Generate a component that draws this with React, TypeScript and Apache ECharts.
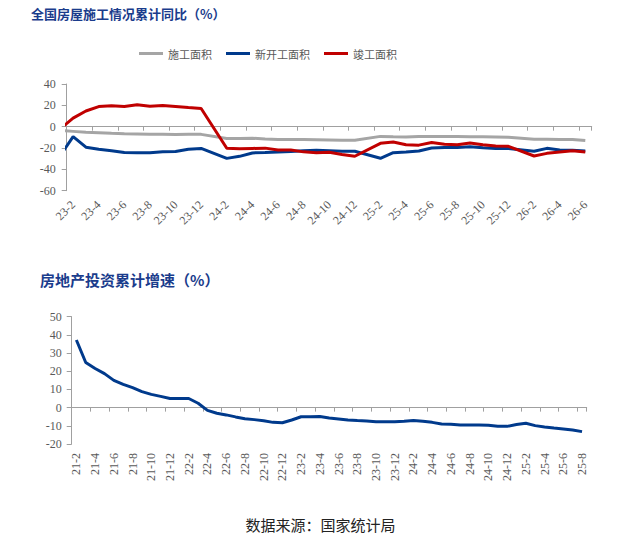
import React, { useEffect, useRef } from 'react';
import * as echarts from 'echarts';

// ---- Top chart: 全国房屋施工情况累计同比 ----
// index 0 is a leading point just left of the visible range (clipped by the grid)
const topCategories = [
  '23-1',
  '23-2', '23-3', '23-4', '23-5', '23-6', '23-7', '23-8', '23-9', '23-10', '23-11', '23-12',
  '24-1', '24-2', '24-3', '24-4', '24-5', '24-6', '24-7', '24-8', '24-9', '24-10', '24-11', '24-12',
  '25-1', '25-2', '25-3', '25-4', '25-5', '25-6', '25-7', '25-8', '25-9', '25-10', '25-11', '25-12',
  '26-1', '26-2', '26-3', '26-4', '26-5', '26-6',
];
const constructionArea = [
  -3.6,
  -4.4, -5.2, -5.6, -6.2, -6.6, -6.8, -7.1, -7.1, -7.3, -7.2, -7.2,
  null, -11.0, -11.1, -10.8, -11.6, -12.0, -12.1, -12.0, -12.2, -12.4, -12.7, -12.7,
  null, -9.1, -9.5, -9.7, -9.2, -9.1, -9.2, -9.3, -9.4, -9.4, -9.6, -10.0,
  null, -11.8, -11.8, -11.9, -12.0, -13.0,
];
const newStartArea = [
  -27,
  -9.4, -19.2, -21.2, -22.6, -24.3, -24.5, -24.4, -23.4, -23.2, -21.2, -20.4,
  null, -29.7, -27.8, -24.6, -24.2, -23.7, -23.2, -22.5, -22.2, -22.6, -23.0, -23.0,
  null, -29.6, -24.4, -23.8, -22.8, -20.0, -19.4, -19.5, -18.9, -19.8, -20.5, -20.4,
  null, -23.1, -20.3, -21.9, -22.2, -22.8,
];
const completedArea = [
  -2,
  8.0, 14.7, 18.8, 19.6, 19.0, 20.5, 19.2, 19.8, 19.0, 17.9, 17.0,
  null, -20.2, -20.7, -20.4, -20.1, -21.8, -21.8, -23.6, -24.4, -23.9, -26.0, -27.7,
  null, -15.6, -14.3, -16.9, -17.3, -14.8, -16.5, -17.0, -15.3, -16.9, -18.0, -18.4,
  null, -27.5, -25.0, -23.7, -22.5, -23.7,
];
const topSeriesNames = ['施工面积', '新开工面积', '竣工面积'];

// ---- Bottom chart: 房地产投资累计增速 ----
const invCategories = [
  '21-2', '21-3', '21-4', '21-5', '21-6', '21-7', '21-8', '21-9', '21-10', '21-11', '21-12',
  '22-1', '22-2', '22-3', '22-4', '22-5', '22-6', '22-7', '22-8', '22-9', '22-10', '22-11', '22-12',
  '23-1', '23-2', '23-3', '23-4', '23-5', '23-6', '23-7', '23-8', '23-9', '23-10', '23-11', '23-12',
  '24-1', '24-2', '24-3', '24-4', '24-5', '24-6', '24-7', '24-8', '24-9', '24-10', '24-11', '24-12',
  '25-1', '25-2', '25-3', '25-4', '25-5', '25-6', '25-7', '25-8',
];
const investmentGrowth = [
  37.2, 24.8, 21.5, 18.7, 15.0, 12.8, 11.0, 8.8, 7.3, 6.2, 5.0,
  5.0, 5.0, 2.4, -1.5, -3.1, -4.0, -5.1, -6.1, -6.6, -7.2, -8.1, -8.3,
  -6.8, -5.0, -5.0, -4.9, -5.7, -6.2, -6.8, -7.1, -7.3, -7.7, -7.7, -7.7,
  -7.5, -7.1, -7.5, -8.1, -9.0, -9.2, -9.5, -9.5, -9.5, -9.7, -10.3, -10.3,
  -9.3, -8.6, -9.9, -10.6, -11.2, -11.7, -12.3, -13.2,
];

const titleTop = '全国房屋施工情况累计同比（%）';
const titleBottom = '房地产投资累计增速（%）';
const sourceText = '数据来源：国家统计局';

const AXIS_GRAY = '#A0A0A0';
const LABEL_GRAY = '#595959';
const SERIF = 'Liberation Serif';
const CJK = 'Noto Sans CJK SC';
const COLORS = ['#A5A5A5', '#003A8C', '#C00000'];

export default function App() {
  const ref = useRef<HTMLDivElement>(null);

  useEffect(() => {
    if (!ref.current) return;
    const chart = echarts.init(ref.current, null, { renderer: 'svg' });

    const axisLabelStyle = { color: LABEL_GRAY, fontFamily: SERIF, fontSize: 12 };
    const topEven = (i: number) => (i - 1) % 2 === 0;
    const botEven = (i: number) => i % 2 === 0;

    const option: any = {
      animation: false,
      title: [
        {
          text: titleTop, left: 31, top: 7, padding: 0,
          textStyle: { fontSize: 13, fontWeight: 'bold', color: '#1A3C8C', fontFamily: CJK },
        },
        {
          text: titleBottom, left: 40, top: 272, padding: 0,
          textStyle: { fontSize: 15, fontWeight: 'bold', color: '#1A3C8C', fontFamily: CJK },
        },
        {
          text: sourceText, left: 'center', top: 517, padding: 0,
          textStyle: { fontSize: 15, fontWeight: 'normal', color: '#222', fontFamily: CJK },
        },
      ],
      legend: {
        data: topSeriesNames,
        left: 139, top: 48, padding: 0,
        icon: 'rect', itemWidth: 24, itemHeight: 3, itemGap: 14,
        textStyle: { fontSize: 11, color: LABEL_GRAY, fontFamily: CJK },
      },
      grid: [
        { left: 66.7, top: 84, right: 49.3, height: 106.7, containLabel: false },
        { left: 71.7, top: 316.7, right: 54.3, height: 127.3, containLabel: false },
      ],
      xAxis: [
        {
          type: 'category', gridIndex: 0, data: topCategories, min: 1, position: 'bottom',
          boundaryGap: true,
          axisLine: { show: false, onZero: false },
          axisTick: { show: false },
          axisLabel: { ...axisLabelStyle, rotate: 45, margin: 12, interval: topEven },
        },
        {
          type: 'category', gridIndex: 0, data: topCategories, min: 1, position: 'bottom',
          boundaryGap: true,
          axisLine: { show: true, onZero: true, lineStyle: { color: AXIS_GRAY, width: 1 } },
          axisTick: { show: true, interval: topEven, length: 4, lineStyle: { color: AXIS_GRAY } },
          axisLabel: { show: false },
        },
        {
          type: 'category', gridIndex: 1, data: invCategories, position: 'bottom',
          boundaryGap: true,
          axisLine: { show: false, onZero: false },
          axisTick: { show: false },
          axisLabel: { ...axisLabelStyle, rotate: 90, margin: 9, interval: botEven },
        },
        {
          type: 'category', gridIndex: 1, data: invCategories, position: 'bottom',
          boundaryGap: true,
          axisLine: { show: true, onZero: true, lineStyle: { color: AXIS_GRAY, width: 1 } },
          axisTick: { show: true, interval: botEven, length: 4, lineStyle: { color: AXIS_GRAY } },
          axisLabel: { show: false },
        },
      ],
      yAxis: [
        {
          type: 'value', gridIndex: 0, min: -60, max: 40, interval: 20,
          axisLine: { show: true, lineStyle: { color: AXIS_GRAY } },
          axisTick: { show: true, length: 5, lineStyle: { color: AXIS_GRAY } },
          splitLine: { show: false },
          axisLabel: { ...axisLabelStyle, margin: 11 },
        },
        {
          type: 'value', gridIndex: 1, min: -20, max: 50, interval: 10,
          axisLine: { show: true, lineStyle: { color: AXIS_GRAY } },
          axisTick: { show: true, length: 5, lineStyle: { color: AXIS_GRAY } },
          splitLine: { show: false },
          axisLabel: { ...axisLabelStyle, margin: 10 },
        },
      ],
      series: [
        {
          name: topSeriesNames[0], type: 'line', xAxisIndex: 0, yAxisIndex: 0,
          data: constructionArea, symbol: 'none', connectNulls: true, clip: true,
          itemStyle: { color: COLORS[0] }, lineStyle: { color: COLORS[0], width: 3 },
        },
        {
          name: topSeriesNames[1], type: 'line', xAxisIndex: 0, yAxisIndex: 0,
          data: newStartArea, symbol: 'none', connectNulls: true, clip: true,
          itemStyle: { color: COLORS[1] }, lineStyle: { color: COLORS[1], width: 3 },
        },
        {
          name: topSeriesNames[2], type: 'line', xAxisIndex: 0, yAxisIndex: 0,
          data: completedArea, symbol: 'none', connectNulls: true, clip: true,
          itemStyle: { color: COLORS[2] }, lineStyle: { color: COLORS[2], width: 3 },
        },
        {
          name: '房地产投资累计增速', type: 'line', xAxisIndex: 2, yAxisIndex: 1,
          data: investmentGrowth, symbol: 'none', clip: true,
          itemStyle: { color: COLORS[1] }, lineStyle: { color: COLORS[1], width: 3 },
        },
      ],
    };

    chart.setOption(option);
    return () => chart.dispose();
  }, []);

  return (
    <div
      ref={ref}
      style={{ position: 'absolute', left: 0, top: 0, width: 641, height: 537, background: '#fff' }}
    />
  );
}
